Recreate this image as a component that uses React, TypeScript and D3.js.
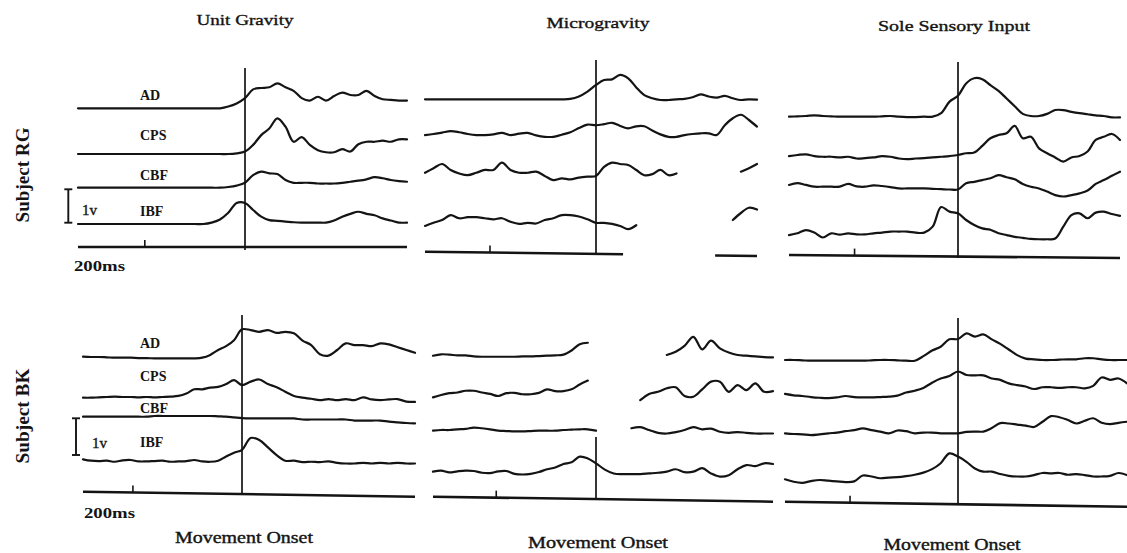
import React from "react";
import * as d3 from "d3";

// sample times relative to movement onset (ms)
const TIMES = d3.range(-500, 501, 25);
const CHANNELS = ["AD", "CPS", "CBF", "IBF"];
const CONDITIONS = ["Unit Gravity", "Microgravity", "Sole Sensory Input"];
const SUBJECTS = ["Subject RG", "Subject BK"];
const ONSET_LABEL = "Movement Onset";

// EMG envelopes in volts above resting level, one value every 25 ms; null = not recorded
const RG_UNIT_AD = [0, 0, 0, 0, 0, 0, 0, 0, 0, 0, 0, 0, 0, 0, 0, 0, 0, 0, 0.05, 0.14, 0.29, 0.54, 0.58, 0.6, 0.71, 0.6, 0.5, 0.29, 0.22, 0.33, 0.22, 0.35, 0.45, 0.38, 0.38, 0.5, 0.35, 0.26, 0.24, 0.22, 0.22];
const RG_UNIT_CPS = [0, 0, 0, 0, 0, 0, 0, 0, 0, 0, 0, 0, 0, 0, 0, 0, 0, 0, 0, 0.02, 0.07, 0.26, 0.54, 0.73, 1.02, 0.78, 0.35, 0.48, 0.26, 0.11, 0.05, 0.05, 0.14, 0.07, 0.28, 0.35, 0.35, 0.38, 0.35, 0.42, 0.42];
const RG_UNIT_CBF = [0, 0, 0, 0, 0, 0, 0, 0, 0, 0, 0, 0, 0, 0, 0, 0, 0, 0, 0.02, 0.06, 0.14, 0.36, 0.46, 0.41, 0.39, 0.22, 0.14, 0.14, 0.14, 0.12, 0.12, 0.12, 0.14, 0.17, 0.2, 0.24, 0.3, 0.27, 0.22, 0.19, 0.17];
const RG_UNIT_IBF = [0, 0, 0, 0, 0, 0, 0, 0, 0, 0, 0, 0, 0, 0, 0, 0, 0.04, 0.13, 0.32, 0.6, 0.6, 0.4, 0.21, 0.11, 0.09, 0.07, 0.05, 0.04, 0.04, 0.04, 0.04, 0.1, 0.21, 0.29, 0.35, 0.29, 0.25, 0.16, 0.1, 0.04, 0.04];

const RG_MICRO_AD = [0, 0, 0, 0, 0, 0, 0, 0, 0, 0, 0, 0, 0, 0, 0, 0, 0, 0.01, 0.08, 0.22, 0.41, 0.55, 0.57, 0.7, 0.6, 0.34, 0.12, 0.03, -0.02, -0.02, 0, 0.01, 0.06, 0.14, 0.08, 0.05, 0.1, 0.03, -0.02, 0, -0.01];
const RG_MICRO_CPS = [-0.03, 0, 0.04, 0.08, 0.05, 0, -0.03, -0.03, -0.01, 0.03, -0.03, 0.01, 0.03, -0.04, -0.08, -0.08, -0.02, 0.05, 0.17, 0.27, 0.25, 0.28, 0.32, 0.23, 0.16, 0.22, 0.22, 0.1, -0.01, -0.08, -0.08, -0.03, 0, 0.02, 0.02, -0.03, 0.25, 0.45, 0.55, 0.4, 0.21];
const RG_MICRO_CBF = [-0.03, 0.1, 0.22, 0.05, -0.05, -0.1, -0.03, 0.05, 0.05, 0.26, 0.05, -0.03, -0.03, 0, -0.12, -0.24, -0.19, -0.22, -0.17, -0.14, -0.12, 0.14, 0.26, 0.22, 0.19, 0.05, -0.1, -0.07, 0.05, -0.1, -0.05, null, null, null, null, null, null, null, 0, 0.1, 0.22];
const RG_MICRO_IBF = [-0.17, -0.08, 0, 0.14, 0.05, 0.08, 0.08, 0.05, 0.02, 0.05, -0.05, -0.11, -0.08, -0.1, 0, 0.05, 0.14, 0.14, 0.1, 0.02, -0.08, -0.08, -0.11, -0.17, -0.26, -0.15, null, null, null, null, null, null, null, null, null, null, null, 0, 0.2, 0.35, 0.3];

const RG_SOLE_AD = [0, 0.01, 0.02, 0.04, 0.02, 0.01, 0, 0, 0, 0, 0, 0.01, 0.02, 0, -0.01, -0.01, 0, 0, 0.1, 0.43, 0.6, 0.95, 1.1, 1.07, 0.9, 0.74, 0.52, 0.3, 0.08, 0.02, 0.02, 0.08, 0.19, 0.19, 0.14, 0.1, 0.07, 0.04, 0.02, -0.02, -0.02];
const RG_SOLE_CPS = [-0.03, 0, 0.02, -0.03, -0.05, -0.05, -0.07, -0.05, -0.1, -0.09, -0.07, -0.03, -0.05, -0.1, -0.12, -0.1, -0.09, -0.07, -0.05, -0.03, 0, 0.05, 0.07, 0.26, 0.48, 0.57, 0.62, 0.83, 0.48, 0.52, 0.19, 0.05, -0.07, -0.19, -0.07, -0.03, 0.1, 0.43, 0.52, 0.6, 0.43];
const RG_SOLE_CBF = [0.03, 0.08, 0.03, -0.02, -0.02, -0.02, -0.02, 0.06, -0.01, -0.02, 0.02, 0, -0.03, -0.07, -0.07, -0.07, -0.07, -0.08, -0.09, -0.1, -0.1, 0.08, 0.12, 0.17, 0.22, 0.31, 0.25, 0.19, 0.06, -0.02, -0.07, -0.16, -0.26, -0.3, -0.26, -0.21, -0.13, 0.06, 0.17, 0.29, 0.41];
const RG_SOLE_IBF = [-0.05, 0, 0.09, 0.02, -0.12, 0, -0.04, 0, -0.03, -0.03, 0, 0.02, 0.05, 0.05, 0.05, 0.02, 0.02, 0.19, 0.75, 0.62, 0.57, 0.38, 0.24, 0.14, 0.1, 0, -0.05, -0.1, -0.13, -0.16, -0.17, -0.17, -0.15, 0.19, 0.52, 0.57, 0.43, 0.59, 0.62, 0.55, 0.5];

const BK_UNIT_AD = [0.03, 0.02, 0.02, 0.01, 0, 0, 0, -0.01, -0.01, -0.02, -0.02, -0.02, -0.02, -0.02, -0.02, 0, 0.08, 0.22, 0.33, 0.5, 0.81, 0.79, 0.74, 0.79, 0.71, 0.74, 0.7, 0.49, 0.36, 0.1, 0.06, 0.22, 0.41, 0.36, 0.36, 0.33, 0.41, 0.38, 0.3, 0.22, 0.14];
const BK_UNIT_CPS = [0, 0, 0.01, 0.02, 0.03, 0.02, 0.02, 0.01, 0.02, 0.01, 0.02, 0.03, 0.05, 0.12, 0.24, 0.24, 0.29, 0.31, 0.39, 0.5, 0.36, 0.46, 0.52, 0.39, 0.3, 0.17, 0.05, 0, -0.03, -0.07, -0.04, -0.07, -0.04, -0.07, 0.01, -0.05, -0.07, -0.05, -0.04, -0.11, -0.12];
const BK_UNIT_CBF = [0, 0, 0, 0, 0, 0, 0, 0, 0, 0.02, 0.02, 0.02, 0.02, 0.02, 0.02, 0.02, 0.02, 0.01, 0, -0.02, -0.04, -0.05, -0.05, -0.05, -0.05, -0.05, -0.05, -0.08, -0.08, -0.08, -0.08, -0.08, -0.08, -0.11, -0.11, -0.11, -0.11, -0.14, -0.16, -0.18, -0.19];
const BK_UNIT_IBF = [0.02, -0.02, -0.03, -0.02, -0.05, -0.01, 0, -0.04, -0.04, -0.03, -0.02, -0.05, -0.04, -0.03, 0, -0.04, -0.05, -0.02, 0.1, 0.21, 0.29, 0.63, 0.57, 0.36, 0.14, -0.02, -0.02, -0.06, -0.05, -0.06, -0.04, -0.08, -0.1, -0.1, -0.08, -0.1, -0.08, -0.1, -0.08, -0.1, -0.1];

const BK_MICRO_AD = [0, 0.04, 0.03, 0.01, 0.01, -0.02, -0.03, -0.03, -0.03, -0.03, -0.03, -0.02, -0.02, -0.01, 0, 0.01, 0.03, 0.15, 0.33, 0.37, null, null, null, null, null, null, null, null, 0.02, 0.11, 0.28, 0.54, 0.18, 0.43, 0.21, 0.09, 0.02, 0, -0.02, -0.04, -0.05];
const BK_MICRO_CPS = [-0.02, 0.05, 0.1, 0.12, 0.17, 0.17, 0.12, 0.08, 0.02, 0.1, 0.11, 0.07, 0.07, 0.11, 0.21, 0.16, 0.16, 0.21, 0.35, 0.46, null, null, null, null, null, -0.1, 0.08, 0.14, 0.24, 0.27, 0.02, 0, 0.21, 0.43, 0.43, 0.14, 0.33, 0.19, 0.38, 0.14, 0.16];
const BK_MICRO_CBF = [-0.02, 0, 0, 0.02, 0.03, 0.07, 0.05, 0.02, -0.02, -0.03, -0.04, -0.04, -0.03, -0.02, -0.02, -0.02, 0, 0.01, 0.02, 0.02, -0.02, null, null, null, 0.05, 0.08, 0, -0.08, -0.1, -0.06, 0, 0.08, 0.02, 0.04, -0.05, -0.08, -0.06, -0.08, -0.1, -0.1, -0.1];
const BK_MICRO_IBF = [0, 0.03, -0.02, 0.01, 0.03, 0.02, -0.03, -0.04, 0.01, 0.02, -0.06, -0.08, -0.06, -0.01, 0.07, 0.12, 0.22, 0.27, 0.43, 0.38, 0.24, 0.06, -0.05, -0.07, -0.07, -0.07, -0.05, -0.03, 0, 0.07, -0.01, 0, 0.1, -0.05, -0.14, -0.1, 0.07, 0.19, 0.16, 0.24, 0.22];

const BK_SOLE_AD = [0, 0, -0.01, -0.02, -0.02, -0.02, -0.02, -0.02, -0.02, -0.02, -0.01, 0, 0, -0.01, -0.02, -0.02, 0.11, 0.27, 0.38, 0.59, 0.6, 0.76, 0.67, 0.73, 0.59, 0.46, 0.3, 0.14, 0.04, 0.02, 0, 0, 0.01, 0.02, 0.02, 0.05, 0.05, 0.02, 0, 0, 0];
const BK_SOLE_CPS = [0.06, 0.02, 0, -0.03, -0.05, -0.06, -0.04, 0, -0.03, -0.04, -0.04, -0.03, -0.02, 0.01, 0.1, 0.15, 0.23, 0.38, 0.5, 0.57, 0.7, 0.6, 0.59, 0.59, 0.5, 0.46, 0.36, 0.31, 0.27, 0.2, 0.25, 0.25, 0.23, 0.25, 0.25, 0.22, 0.29, 0.53, 0.46, 0.5, 0.36];
const BK_SOLE_CBF = [0.02, 0, -0.01, -0.03, -0.01, 0.02, 0.04, 0.08, 0.11, 0.16, 0.11, 0.07, 0.02, 0.1, 0.08, 0.02, 0.04, 0.04, 0.02, 0.02, 0.02, 0.06, 0.07, 0.07, 0.17, 0.31, 0.3, 0.27, 0.24, 0.2, 0.35, 0.51, 0.48, 0.4, 0.3, 0.38, 0.45, 0.32, 0.28, 0.32, 0.35];
const BK_SOLE_IBF = [0.02, -0.05, -0.08, -0.03, 0, -0.02, -0.04, -0.06, -0.04, 0.13, 0.1, 0.05, 0.07, 0.08, 0.11, 0.15, 0.21, 0.31, 0.48, 0.76, 0.67, 0.52, 0.33, 0.24, 0.24, 0.17, 0.12, 0.1, 0.1, 0.14, 0.2, 0.19, 0.2, 0.15, 0.17, 0.14, 0.1, 0.1, 0.12, 0.2, 0.14];

// time-axis tick time (ms) in each panel, and recorded stretches of the time axis
const TICK_TIMES = [-300, -310, -306, -343, -306, -312];
const AXIS_SPANS = [[[-500, 500]], [[-500, 84], [370, 500]], [[-500, 500]], [[-500, 500]], [[-500, 500]], [[-500, 500]]];

const INK = "#141414";
const VOLT_PX = 35;
const FONT = "'Liberation Serif', 'DejaVu Serif', serif";

// page layout of each panel (pixels)
const PANELS = [
  { traces: [RG_UNIT_AD, RG_UNIT_CPS, RG_UNIT_CBF, RG_UNIT_IBF], x: [78, 245, 407], axisY: [247, 247], onset: [68, 250], base: [108.3, 154, 187.7, 224] },
  { traces: [RG_MICRO_AD, RG_MICRO_CPS, RG_MICRO_CBF, RG_MICRO_IBF], x: [425, 596, 757], axisY: [251.7, 256], onset: [60, 254], base: [99.3, 134, 171.7, 220] },
  { traces: [RG_SOLE_AD, RG_SOLE_CPS, RG_SOLE_CBF, RG_SOLE_IBF], x: [789, 958, 1120], axisY: [255, 258], onset: [62, 258], base: [116.7, 155, 186, 233.3] },
  { traces: [BK_UNIT_AD, BK_UNIT_CPS, BK_UNIT_CBF, BK_UNIT_IBF], x: [83, 242, 415], axisY: [491.7, 496.7], onset: [315, 494], base: [357.7, 397.7, 416.7, 460] },
  { traces: [BK_MICRO_AD, BK_MICRO_CPS, BK_MICRO_CBF, BK_MICRO_IBF], x: [433, 596, 773], axisY: [496.7, 501.7], onset: [437, 499], base: [355.7, 396.7, 430, 471.7] },
  { traces: [BK_SOLE_AD, BK_SOLE_CPS, BK_SOLE_CBF, BK_SOLE_IBF], x: [785, 958, 1127], axisY: [501.7, 506.7], onset: [318, 504], base: [360, 396, 434, 480] },
];

const TITLE_POS = [{ x: 245, y: 25, w: 97 }, { x: 598, y: 28, w: 103 }, { x: 954, y: 31, w: 152 }];
const ONSET_POS = [{ x: 244, y: 543, w: 138 }, { x: 598, y: 548, w: 140 }, { x: 952, y: 550, w: 137 }];
const ROW_LAYOUT = [
  { subjectY: 175, labelY: [100, 140, 180, 216], barX: 68.3, bar: [189.3, 222.7], voltX: 82, voltY: 215, msX: 74, msY: 271 },
  { subjectY: 416, labelY: [348, 381, 413, 447], barX: 76, bar: [418.3, 455], voltX: 92, voltY: 448, msX: 84, msY: 518 },
];

function Panel({ p, tick, spans }) {
  const x = d3.scaleLinear().domain([-500, 0, 500]).range(p.x);
  const axisY = d3.scaleLinear().domain([-500, 500]).range(p.axisY);
  return (
    <g>
      {p.traces.map((vals, i) => {
        const y = d3.scaleLinear().domain([0, 1]).range([p.base[i], p.base[i] - VOLT_PX]);
        const line = d3
          .line()
          .defined((v) => v != null)
          .x((_, j) => x(TIMES[j]))
          .y((v) => y(v))
          .curve(d3.curveCatmullRom.alpha(0.5));
        return (
          <path key={i} d={line(vals) || ""} fill="none" stroke={INK} strokeWidth={2.2}
            strokeLinejoin="round" strokeLinecap="round" />
        );
      })}
      {spans.map(([a, b], i) => (
        <line key={i} x1={x(a)} x2={x(b)} y1={axisY(a)} y2={axisY(b)} stroke={INK} strokeWidth={2.6} />
      ))}
      <line x1={x(tick)} x2={x(tick)} y1={axisY(tick)} y2={axisY(tick) - 7} stroke={INK} strokeWidth={1.6} />
      <line x1={x(0)} x2={x(0)} y1={p.onset[0]} y2={p.onset[1]} stroke={INK} strokeWidth={1.7} />
    </g>
  );
}

export default function App() {
  return (
    <svg width={1127} height={553} style={{ position: "absolute", left: 0, top: 0 }} fontFamily={FONT} fill={INK}>
      <rect width={1127} height={553} fill="#fff" />
      {PANELS.map((p, k) => (
        <Panel key={k} p={p} tick={TICK_TIMES[k]} spans={AXIS_SPANS[k]} />
      ))}
      {CONDITIONS.map((c, i) => (
        <text key={c} x={TITLE_POS[i].x} y={TITLE_POS[i].y} textAnchor="middle" fontSize={15}
          stroke={INK} strokeWidth={0.35}
          textLength={TITLE_POS[i].w} lengthAdjust="spacingAndGlyphs">{c}</text>
      ))}
      {CONDITIONS.map((c, i) => (
        <text key={c + "-onset"} x={ONSET_POS[i].x} y={ONSET_POS[i].y} textAnchor="middle" fontSize={17}
          stroke={INK} strokeWidth={0.4}
          textLength={ONSET_POS[i].w} lengthAdjust="spacingAndGlyphs">{ONSET_LABEL}</text>
      ))}
      {SUBJECTS.map((s, r) => {
        const L = ROW_LAYOUT[r];
        return (
          <g key={s}>
            <text transform={`translate(29,${L.subjectY}) rotate(-90)`} textAnchor="middle" fontSize={18}
              fontWeight="bold" textLength={95} lengthAdjust="spacingAndGlyphs">{s}</text>
            {CHANNELS.map((ch, i) => (
              <text key={ch} x={140} y={L.labelY[i]} fontSize={14} fontWeight="bold">{ch}</text>
            ))}
            <line x1={L.barX} x2={L.barX} y1={L.bar[0]} y2={L.bar[1]} stroke={INK} strokeWidth={1.9} />
            <line x1={L.barX - 4} x2={L.barX + 4} y1={L.bar[0]} y2={L.bar[0]} stroke={INK} strokeWidth={1.9} />
            <line x1={L.barX - 4} x2={L.barX + 4} y1={L.bar[1]} y2={L.bar[1]} stroke={INK} strokeWidth={1.9} />
            <text x={L.voltX} y={L.voltY} fontSize={15} stroke={INK} strokeWidth={0.35}>1v</text>
            <text x={L.msX} y={L.msY} fontSize={15} fontWeight="bold" textLength={51} lengthAdjust="spacingAndGlyphs">200ms</text>
          </g>
        );
      })}
    </svg>
  );
}
